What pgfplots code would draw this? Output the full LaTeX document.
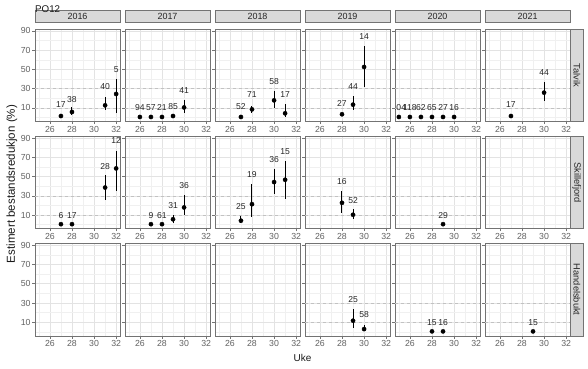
\documentclass[border=0pt]{standalone}
\usepackage{pgfplots}
\usepackage{pgfplotstable}
\pgfplotsset{compat=1.18}
\usepackage{fontspec}
\setmainfont{Liberation Sans}
\definecolor{panelborder}{gray}{0.45}
\definecolor{stripfill}{gray}{0.85}
\definecolor{gridmaj}{gray}{0.89}
\definecolor{gridmin}{gray}{0.94}
\definecolor{refcol}{gray}{0.76}
\definecolor{ticktext}{gray}{0.38}

% x = week, y = estimate, lo/hi = interval, ly = label height, lab = label
\pgfplotstableread{
x y lo hi ly lab
27 1.5 0.5 2.5 13.7 17
28 5.7 2.6 10.5 18.9 38
31 12.6 7.8 21.6 32 40
32 24.4 4.3 40 50 5
}\TA
\pgfplotstableread{
x y lo hi ly lab
26 0.5 0.5 0.5 10 94
27 0.5 0.5 0.5 10 57
28 0.5 0.5 0.5 10 21
29 1.5 1 2 11 85
30 10.4 5 18.2 28.5 41
}\TB
\pgfplotstableread{
x y lo hi ly lab
27 0.5 0.5 0.5 11 52
28 8.4 5 11.9 23.4 71
30 17.8 9.5 27.8 36.9 58
31 4.3 0.8 13.6 23.4 17
}\TC
\pgfplotstableread{
x y lo hi ly lab
28 3.3 2.5 4.5 14.3 27
29 13.3 7.7 22.6 31.7 44
30 52.5 31.4 74.3 84 14
}\TD
\pgfplotstableread{
x y lo hi ly lab
25 0.5 0.5 0.5 10 104
26 0.5 0.5 0.5 10 118
27 0.5 0.5 0.5 10 62
28 0.5 0.5 0.5 10 65
29 0.5 0.5 0.5 10 27
30 0.5 0.5 0.5 10 16
}\TE
\pgfplotstableread{
x y lo hi ly lab
27 1.5 1 2 13.7 17
30 25.8 16.8 36.5 46.2 44
}\TF
\pgfplotstableread{
x y lo hi ly lab
27 0.5 0.5 0.5 9.7 6
28 0.5 0.5 0.5 9.7 17
31 38.6 25.5 51.2 60.8 28
32 58.5 34.5 77 87.4 12
}\SA
\pgfplotstableread{
x y lo hi ly lab
27 0.5 0.5 0.5 9.7 9
28 0.5 0.5 0.5 9.7 61
29 5.6 2 10.3 20.3 31
30 17.9 10.3 30.6 40.9 36
}\SB
\pgfplotstableread{
x y lo hi ly lab
27 4.1 1.4 9.3 19.3 25
28 21.3 7.6 42.7 52.3 19
30 44.3 31.6 58.1 68 36
31 46.7 27.2 66 76 15
}\SC
\pgfplotstableread{
x y lo hi ly lab
28 22.7 11.8 34.7 45 16
29 10.3 6.2 15.9 25.5 52
}\SD
\pgfplotstableread{
x y lo hi ly lab
29 0.5 0.5 0.5 9.7 29
}\SE
\pgfplotstableread{
x y lo hi ly lab
29 11.6 4 23.7 33.1 25
30 2.9 0.4 7.4 17.8 58
}\HD
\pgfplotstableread{
x y lo hi ly lab
28 0.5 0.5 0.5 9.8 15
29 0.5 0.5 0.5 9.8 16
}\HE
\pgfplotstableread{
x y lo hi ly lab
29 0.5 0.5 0.5 9.8 15
}\HF

\pgfplotsset{
  panel/.style={
    scale only axis, width=85bp, height=92.5bp,
    anchor=north west,
    xmin=24.65, xmax=32.35, ymin=-4.2, ymax=92,
    xtick={26,28,30,32}, minor xtick={25,27,29,31},
    ytick={10,30,50,70,90}, minor ytick={0,20,40,60,80},
    grid=both,
    major grid style={gridmaj, line width=0.6bp},
    minor grid style={gridmin, line width=0.4bp},
    axis line style={panelborder, line width=0.7bp},
    tick align=outside, major tick length=2.7bp, minor tick length=0pt,
    tick style={panelborder, line width=0.6bp},
    xtick pos=bottom, ytick pos=left,
    /pgf/number format/assume math mode=true,
    ticklabel style={font=\fontsize{8.8}{10}\selectfont, text=ticktext},
    xticklabel style={inner sep=1.5pt},
    yticklabel style={inner sep=1.5pt},
    clip marker paths=true,
    title style={at={(0.5,1)}, anchor=south, fill=stripfill, draw=panelborder,
      line width=0.6bp, minimum width=85bp, minimum height=12.3bp, inner sep=0pt,
      font=\fontsize{9}{10}\selectfont, text=black!85, yshift=0pt},
  },
  noy/.style={yticklabels={}},
  rstrip/.style={extra description/.code={
    \node[rotate=-90, anchor=south, fill=stripfill, draw=panelborder, line width=0.6bp,
      minimum width=92.5bp, minimum height=13bp, inner sep=0pt,
      font=\fontsize{9.3}{10}\selectfont, text=black!85]
      at (axis description cs:1,0.5) {#1};}},
  refline/.style={refcol, line width=0.55bp, dash pattern=on 3bp off 3bp, forget plot},
}

\newcommand{\dopanel}[1]{%
  \addplot[refline] coordinates {(24.65,10) (32.35,10)};
  \addplot[refline] coordinates {(24.65,30) (32.35,30)};
  \addplot[only marks, mark=*, mark size=2.1bp, black,
    error bars/.cd, y dir=both, y explicit, error mark=none,
    error bar style={line width=1bp, black}]
    table[x=x, y=y, y error plus expr=\thisrow{hi}-\thisrow{y},
      y error minus expr=\thisrow{y}-\thisrow{lo}] {#1};
  \addplot[draw=none, mark=none, nodes near coords, point meta=explicit symbolic,
    every node near coord/.append style={anchor=center, inner sep=0pt,
      font=\fontsize{8.6}{9}\selectfont, text=black!85}]
    table[x=x, y=ly, meta=lab] {#1};
}

\begin{document}
\begin{tikzpicture}[x=1bp, y=1bp]
\path[use as bounding box] (0,0) rectangle (588,368);

% Row 1: Talvik
\begin{axis}[panel, at={(35bp,339bp)}, title={2016}]\dopanel{\TA}\end{axis}
\begin{axis}[panel, noy, at={(125bp,339bp)}, title={2017}]\dopanel{\TB}\end{axis}
\begin{axis}[panel, noy, at={(215bp,339bp)}, title={2018}]\dopanel{\TC}\end{axis}
\begin{axis}[panel, noy, at={(305bp,339bp)}, title={2019}]\dopanel{\TD}\end{axis}
\begin{axis}[panel, noy, at={(395bp,339bp)}, title={2020}]\dopanel{\TE}\end{axis}
\begin{axis}[panel, noy, at={(485bp,339bp)}, title={2021}, rstrip={Talvik}]\dopanel{\TF}\end{axis}

% Row 2: Skillefjord
\begin{axis}[panel, at={(35bp,231.8bp)}]\dopanel{\SA}\end{axis}
\begin{axis}[panel, noy, at={(125bp,231.8bp)}]\dopanel{\SB}\end{axis}
\begin{axis}[panel, noy, at={(215bp,231.8bp)}]\dopanel{\SC}\end{axis}
\begin{axis}[panel, noy, at={(305bp,231.8bp)}]\dopanel{\SD}\end{axis}
\begin{axis}[panel, noy, at={(395bp,231.8bp)}]\dopanel{\SE}\end{axis}
\begin{axis}[panel, noy, at={(485bp,231.8bp)}, rstrip={Skillefjord}]\end{axis}

% Row 3: Handelsbukt
\begin{axis}[panel, at={(35bp,124.6bp)}]\end{axis}
\begin{axis}[panel, noy, at={(125bp,124.6bp)}]\end{axis}
\begin{axis}[panel, noy, at={(215bp,124.6bp)}]\end{axis}
\begin{axis}[panel, noy, at={(305bp,124.6bp)}]\dopanel{\HD}\end{axis}
\begin{axis}[panel, noy, at={(395bp,124.6bp)}]\dopanel{\HE}\end{axis}
\begin{axis}[panel, noy, at={(485bp,124.6bp)}, rstrip={Handelsbukt}]\dopanel{\HF}\end{axis}

\node[anchor=west, font=\fontsize{9.8}{11}\selectfont, text=black!90, inner sep=0pt] at (35,358.5) {PO12};
\node[rotate=90, font=\fontsize{11.6}{13}\selectfont, text=black!90, inner sep=0pt] at (12,184) {Estimert bestandsredukjon (\%)};
\node[font=\fontsize{10}{12}\selectfont, text=black!90, inner sep=0pt] at (302.5,10) {Uke};
\end{tikzpicture}
\end{document}
